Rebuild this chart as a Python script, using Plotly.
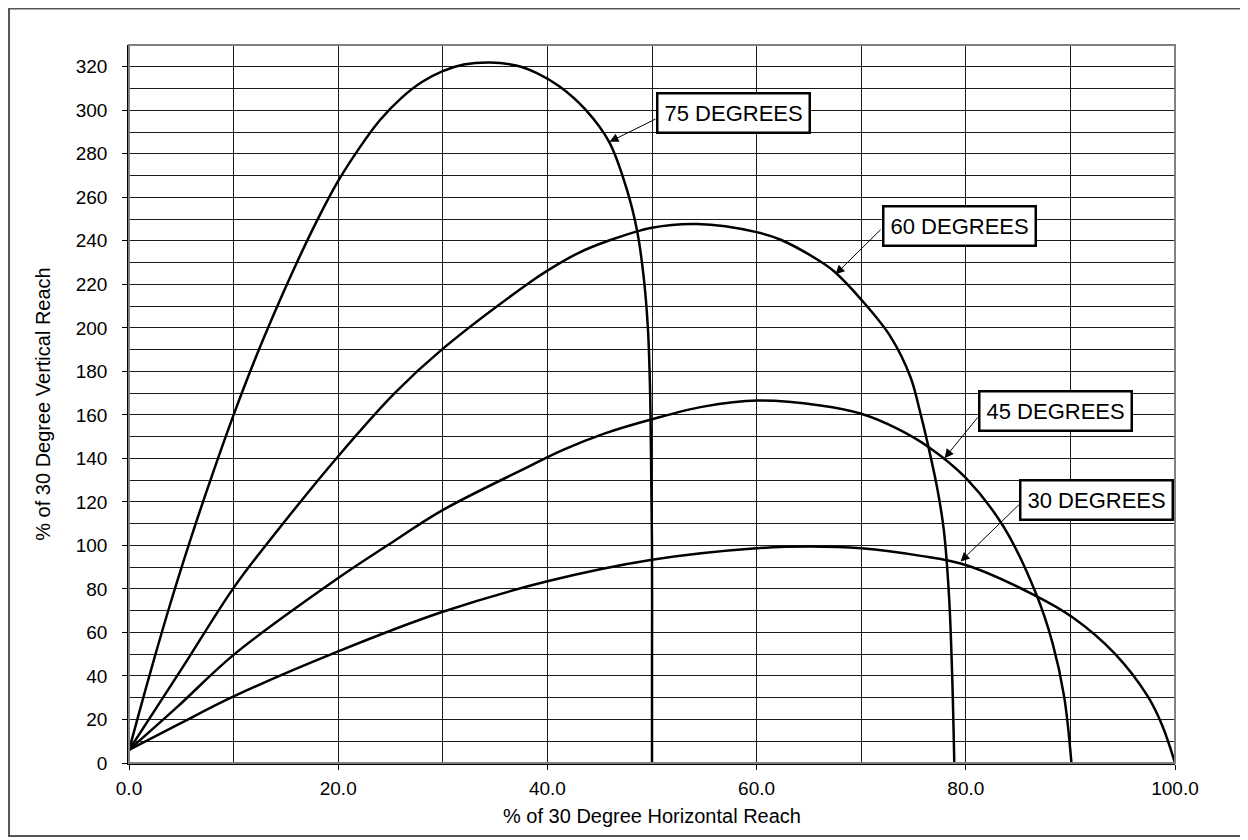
import plotly.graph_objects as go

# ---- data ----
x75 = [0, 2, 4, 6, 8, 10, 12, 14, 16, 18, 20, 22, 24, 26, 28, 30, 32, 34.5, 37, 39, 41.2, 43.6, 45.9, 47.6, 48.6, 49.2, 49.6, 49.8, 49.9, 50.0, 50.0, 50.0]
y75 = [6, 41, 74, 104.5, 133, 160, 185, 208, 229.5, 249.5, 267.5, 282.5, 295.5, 305.5, 313, 318, 321, 322, 320.6, 317.1, 310.8, 300.5, 285.5, 263.5, 244, 223.5, 200.5, 174.5, 143.9, 100, 40, 0]

x60 = [0, 5, 10, 13.4, 20, 25.4, 29.9, 38.2, 40, 43, 45.7, 50, 54.3, 60, 62.3, 66.1, 67.4, 70, 72.8, 74.7, 75.7, 76.3, 77.3, 77.9, 78.4, 78.7, 78.9]
y60 = [6, 43, 80.5, 102, 141, 170, 190, 220.5, 226.3, 234.5, 239.8, 246, 247.7, 244, 240.5, 230.5, 226, 213, 196, 177.5, 160, 148, 125.5, 107, 76.5, 39.8, 0]

x45 = [0, 4.67, 10, 20, 24.8, 29.9, 38.2, 41.5, 45.5, 50, 54.9, 60.1, 66.1, 70, 73.3, 76.6, 80, 83.6, 86.7, 88.3, 89.4, 90.1]
y45 = [6, 26, 49.7, 85, 100.3, 116, 136.2, 143.9, 151.5, 158, 163.8, 166.6, 164.3, 160.5, 154, 144.7, 131, 108.7, 78, 55, 30.6, 0]

x30 = [0, 4.67, 10, 20, 30, 40, 50, 60, 65.1, 70, 75.7, 80, 86.5, 90.2, 94.2, 97.4, 98.8, 100]
y30 = [6, 17.6, 30.6, 51.3, 69.5, 83.5, 93.4, 98.7, 99.5, 98.7, 95.2, 91, 77.3, 67, 50.5, 30.6, 17, 0]

labels = ["75 DEGREES", "60 DEGREES", "45 DEGREES", "30 DEGREES"]
label_pos = [(57.75, 298.9), (79.44, 247.0), (88.6, 161.8), (92.5, 120.9)]
arrow_tail = [(50.48, 296.3), (72.0, 245.8), (81.25, 159.5), (85.4, 120.2)]
arrow_head = [(45.94, 285.5), (67.54, 224.6), (77.97, 140.1), (79.5, 92.6)]

x_title = "% of 30 Degree Horizontal Reach"
y_title = "% of 30 Degree Vertical Reach"

FONT = "Liberation Sans, Arial, sans-serif"

fig = go.Figure()
for xs, ys in [(x75, y75), (x60, y60), (x45, y45), (x30, y30)]:
    fig.add_trace(go.Scatter(x=xs, y=ys, mode="lines",
                             line=dict(color="black", width=2.5, shape="spline", smoothing=1.0),
                             showlegend=False, hoverinfo="skip"))

annotations = []
for (tx, ty), (hx, hy) in zip(arrow_tail, arrow_head):
    annotations.append(dict(x=hx, y=hy, ax=tx, ay=ty, xref="x", yref="y",
                            axref="x", ayref="y", text="", showarrow=True,
                            arrowhead=2, arrowsize=1.8, arrowwidth=1,
                            arrowcolor="black", standoff=0, startstandoff=0))
for txt, (cx, cy) in zip(labels, label_pos):
    annotations.append(dict(x=cx, y=cy, xref="x", yref="y", text=txt,
                            showarrow=False, font=dict(family=FONT, size=22, color="black"),
                            bgcolor="white", bordercolor="black", borderwidth=2.5,
                            borderpad=6))

grid = "#1a1a1a"
fig.update_layout(
    width=1248, height=840,
    margin=dict(l=121, r=81, t=37, b=85, pad=0),
    paper_bgcolor="white", plot_bgcolor="white",
    font=dict(family=FONT, size=19, color="black"),
    annotations=annotations,
    shapes=[
        dict(type="rect", xref="paper", yref="paper", x0=0, y0=0, x1=1, y1=1,
             line=dict(color="#808080", width=2), layer="above"),
        dict(type="rect", xref="paper", yref="paper", x0=-0.1147, y0=-0.1017,
             x1=1.0631, y1=1.0508, line=dict(color="#555555", width=2)),
    ],
)
fig.update_xaxes(range=[0, 100], dtick=20, tick0=0, tickformat=".1f",
                 showgrid=True, gridcolor=grid, gridwidth=1.2,
                 minor=dict(dtick=10, showgrid=True, gridcolor=grid, gridwidth=1.2),
                 ticks="outside", ticklen=5, tickcolor="black", tickwidth=1.2,
                 showline=True, linecolor="black", linewidth=1.5,
                 zeroline=False, ticklabelstandoff=2,
                 title=dict(text=x_title, font=dict(size=20), standoff=11))
fig.update_yaxes(range=[0, 330], dtick=20, tick0=0,
                 showgrid=True, gridcolor=grid, gridwidth=1.2,
                 minor=dict(dtick=10, showgrid=True, gridcolor=grid, gridwidth=1.2),
                 ticks="outside", ticklen=5, tickcolor="black", tickwidth=1.2,
                 showline=True, linecolor="black", linewidth=1.5,
                 zeroline=False, ticklabelstandoff=11,
                 title=dict(text=y_title, font=dict(size=20), standoff=20))

fig.write_html("out.html")
